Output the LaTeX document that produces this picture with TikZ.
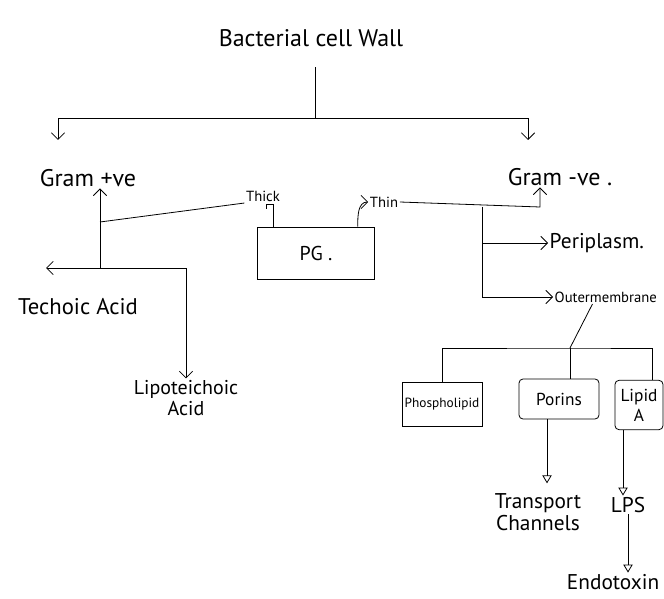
\documentclass[tikz,border=0pt]{standalone}
\usepackage{fontspec}
\setmainfont{PT Sans}
\usetikzlibrary{arrows.meta}

\tikzstyle{word}=[inner sep=1pt,
    font=\fontsize{16}{17}\selectfont]
\tikzstyle{note}=[inner sep=1pt,
    font=\fontsize{11}{13}\selectfont]
\tikzstyle{part}=[rectangle,
    draw,
    inner sep=2pt,
    font=\fontsize{10}{12}\selectfont]
\tikzstyle{pgbox}=[rectangle,
    draw,
    minimum width=88pt,
    minimum height=39pt,
    font=\fontsize{15}{17}\selectfont]
\tikzstyle{tri}=[-{Triangle[open,length=6pt,width=7pt]}]

\begin{document}
\begin{tikzpicture}[x=0.75pt, y=-0.75pt, line width=0.6pt, >={Straight Barb[length=5pt]}]
            \useasboundingbox (0,0) rectangle (664,599);
            % top
            \node (wall) [word, font=\fontsize{18}{20}\selectfont] at (311,38) {Bacterial cell Wall};
            \coordinate (stem) at (315,118);
            \coordinate (posin) at (58,140);
            \coordinate (negin) at (528,140);
            \node (gpos) [word, font=\fontsize{18}{20}\selectfont] at (88,178) {Gram +ve};
            \node (gneg) [word, font=\fontsize{18}{20}\selectfont] at (560,177) {Gram -ve .};
            \draw [shorten <=14pt] (wall.south -| stem) -- (stem);
            \draw [->] (stem) -| (posin);
            \draw [->] (stem) -| (negin);
            % gram positive side
            \coordinate (posfork) at (100,268);
            \coordinate (thickjoin) at (100,222);
            \coordinate (techtip) at (46,268);
            \node (techoic) [word, font=\fontsize{17}{18}\selectfont] at (78,307) {Techoic Acid};
            \node (lipo) [word, font=\fontsize{15}{16}\selectfont, align=center] at (186,398) {Lipoteichoic\\Acid};
            \draw [->] (posfork) -- (posfork |- gpos.south);
            \draw [->] (posfork) -- (techtip);
            \draw [->] (posfork) -| (lipo.north);
            % PG
            \node (pg) [pgbox] at (316,253) {PG .};
            \node (thick) [note] at (263,196) {Thick};
            \node (thin) [note] at (384,202) {Thin};
            \draw (thickjoin) -- (thick.south west);
            \draw ([xshift=12pt]pg.north west) -- ++(0,-22) -- ++(-7,0) -- ++(0,4);
            \draw [->] ([xshift=-13pt]pg.north east) to[out=90, in=180] (thin.west);
            % gram negative side
            \coordinate (negjoin) at (540,207);
            \coordinate (negtrunk) at (482,207);
            \node (peri) [word, anchor=west] at (548,243) {Periplasm.};
            \node (outer) [note, anchor=west] at (553,297) {Outermembrane};
            \draw [->] (thin.east) -- (negjoin) -- (negjoin |- gneg.south);
            \draw [->] (negtrunk) |- (peri.west);
            \draw [->] (negtrunk) |- (outer.west);
            % outer membrane parts
            \coordinate (omjoin) at (570,348);
            \node (phos) [part, minimum height=33pt] at (442,404) {Phospholipid};
            \node (porins) [part, rounded corners=3pt, minimum width=60pt, minimum height=30pt, font=\fontsize{13}{15}\selectfont] at (559,399) {Porins};
            \node (lipid) [part, rounded corners=3pt, align=center, minimum width=36pt, minimum height=37pt, font=\fontsize{13}{15}\selectfont] at (639,405) {Lipid\\A};
            \draw ([xshift=-10pt]outer.south) -- (omjoin);
            \draw (phos.north) |- (omjoin) -| ([xshift=10pt]lipid.north);
            \draw (omjoin) -- (omjoin |- porins.north);
            \node (transport) [word, align=center] at (538,512) {Transport\\Channels};
            \node (lps) [word] at (628,505) {LPS};
            \node (endo) [word, anchor=east] at (661,582) {Endotoxin};
            \draw [tri, shorten >=6pt] ([xshift=-9pt]porins.south) -- ([xshift=-9pt]porins.south |- transport.north);
            \draw [tri] ([xshift=-12pt]lipid.south) -- ([xshift=-12pt]lipid.south |- lps.north);
            \draw [tri] (lps) -- (lps |- endo.north);
        \end{tikzpicture}
\end{document}
